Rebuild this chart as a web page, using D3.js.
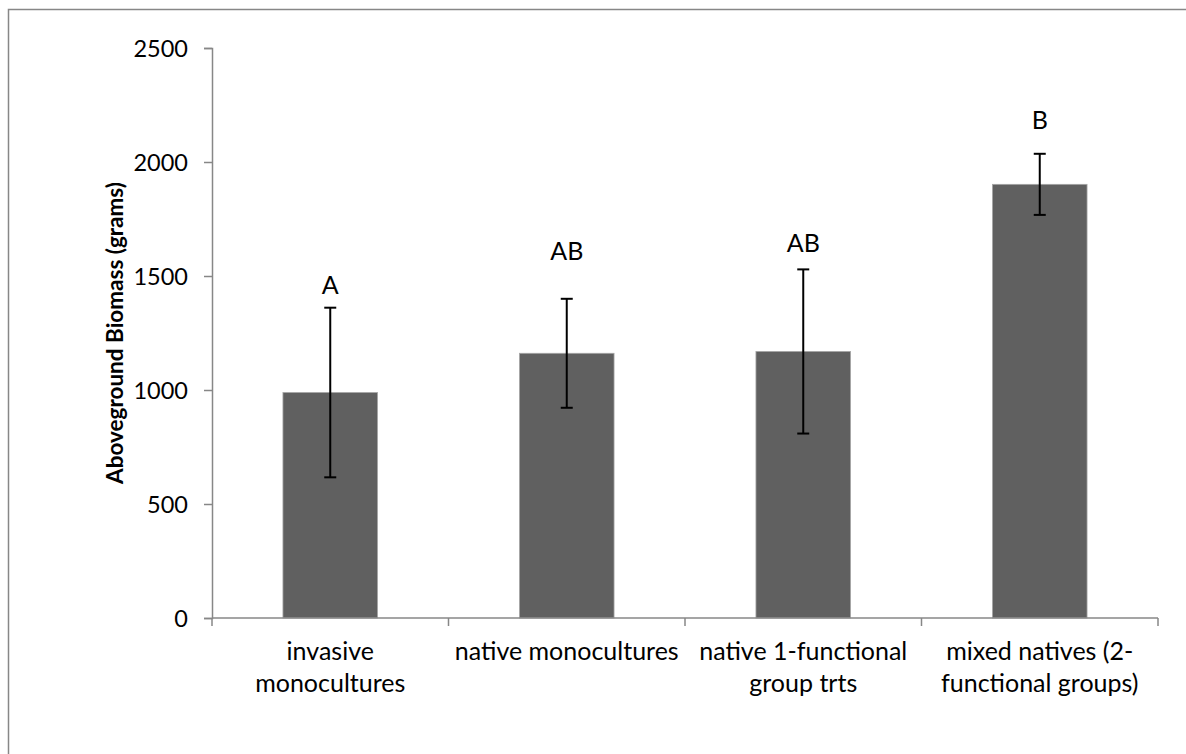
<!DOCTYPE html>
<html>
<head>
<meta charset="utf-8">
<script src="https://cdn.jsdelivr.net/npm/d3@7"></script>
<style>
  html, body { margin: 0; padding: 0; background: #fff; }
  svg { display: block; }
  text { font-family: Lato, "Liberation Sans", sans-serif; fill: #000; }
</style>
</head>
<body>
<script>
// Aboveground biomass by planting treatment (mean ± error)
const categories = [
  ["invasive", "monocultures"],
  ["native monocultures"],
  ["native 1-functional", "group trts"],
  ["mixed natives (2-", "functional groups)"]
];
const biomass = [989, 1161, 1169, 1902];
const errors = [372, 239, 360, 134];
const groupLetters = ["A", "AB", "AB", "B"];
const letterLevels = [1419, 1572, 1607, 2143];
const yTicks = [0, 500, 1000, 1500, 2000, 2500];

const W = 1186, H = 754;
const margin = { left: 212, right: 28, top: 48, bottom: 136 };

const svg = d3.select("body").append("svg").attr("width", W).attr("height", H);

// outer chart frame
svg.append("rect")
  .attr("x", 8.5).attr("y", 9.5)
  .attr("width", W + 20).attr("height", H + 20)
  .attr("fill", "none").attr("stroke", "#878787").attr("stroke-width", 1.5);

const x = d3.scaleBand()
  .domain(d3.range(categories.length))
  .range([margin.left, W - margin.right])
  .paddingInner(0.6).paddingOuter(0.3);

const y = d3.scaleLinear().domain([0, 2500]).range([H - margin.bottom, margin.top]);

const axisColor = "#878787";

// bars
svg.append("g").selectAll("rect").data(biomass).join("rect")
  .attr("x", (d, i) => x(i))
  .attr("width", x.bandwidth())
  .attr("y", d => y(d))
  .attr("height", d => y(0) - y(d))
  .attr("fill", "#606060")
  .attr("stroke", "#a6a6a6").attr("stroke-width", 0.8);

// error bars
const cap = 6;
const eg = svg.append("g").attr("stroke", "#000").attr("stroke-width", 2);
biomass.forEach((d, i) => {
  const cx = x(i) + x.bandwidth() / 2;
  const hi = y(d + errors[i]), lo = y(d - errors[i]);
  eg.append("line").attr("x1", cx).attr("x2", cx).attr("y1", hi).attr("y2", lo);
  eg.append("line").attr("x1", cx - cap).attr("x2", cx + cap).attr("y1", hi).attr("y2", hi);
  eg.append("line").attr("x1", cx - cap).attr("x2", cx + cap).attr("y1", lo).attr("y2", lo);
});

// significance letters
svg.append("g").selectAll("text").data(groupLetters).join("text")
  .attr("x", (d, i) => x(i) + x.bandwidth() / 2)
  .attr("y", (d, i) => y(letterLevels[i]))
  .attr("text-anchor", "middle")
  .style("font-size", "25px")
  .text(d => d);

// y axis
const yAxis = svg.append("g")
  .attr("transform", `translate(${margin.left},0)`)
  .call(d3.axisLeft(y).tickValues(yTicks).tickSize(8).tickPadding(16).tickFormat(d3.format("d")));
yAxis.select(".domain").attr("stroke", axisColor).attr("stroke-width", 1.5);
yAxis.selectAll(".tick line").attr("stroke", axisColor).attr("stroke-width", 1.5);
yAxis.selectAll(".tick text").style("font-size", "23.5px").attr("font-family", null).attr("dy", "0.35em");

// x axis: ticks at category boundaries
const step = x.step();
const boundaries = d3.range(categories.length + 1).map(i => margin.left + i * step);
const xg = svg.append("g");
xg.append("line")
  .attr("x1", margin.left).attr("x2", W - margin.right)
  .attr("y1", y(0)).attr("y2", y(0))
  .attr("stroke", axisColor).attr("stroke-width", 1.5);
xg.selectAll("line.tk").data(boundaries).join("line").attr("class", "tk")
  .attr("x1", d => d).attr("x2", d => d)
  .attr("y1", y(0)).attr("y2", y(0) + 8)
  .attr("stroke", axisColor).attr("stroke-width", 1.5);

// category labels
const labels = svg.append("g").selectAll("text").data(categories).join("text")
  .attr("text-anchor", "middle")
  .style("font-size", "25px");
labels.each(function(lines, i) {
  const t = d3.select(this);
  lines.forEach((ln, k) => {
    t.append("tspan")
      .attr("x", x(i) + x.bandwidth() / 2)
      .attr("y", y(0) + 42 + k * 32)
      .text(ln);
  });
});

// y axis title
svg.append("text")
  .attr("transform", `translate(123,${(y(0) + y(2500)) / 2}) rotate(-90)`)
  .attr("text-anchor", "middle")
  .style("font-size", "22.5px")
  .style("font-weight", "bold")
  .text("Aboveground Biomass (grams)");
</script>
</body>
</html>
